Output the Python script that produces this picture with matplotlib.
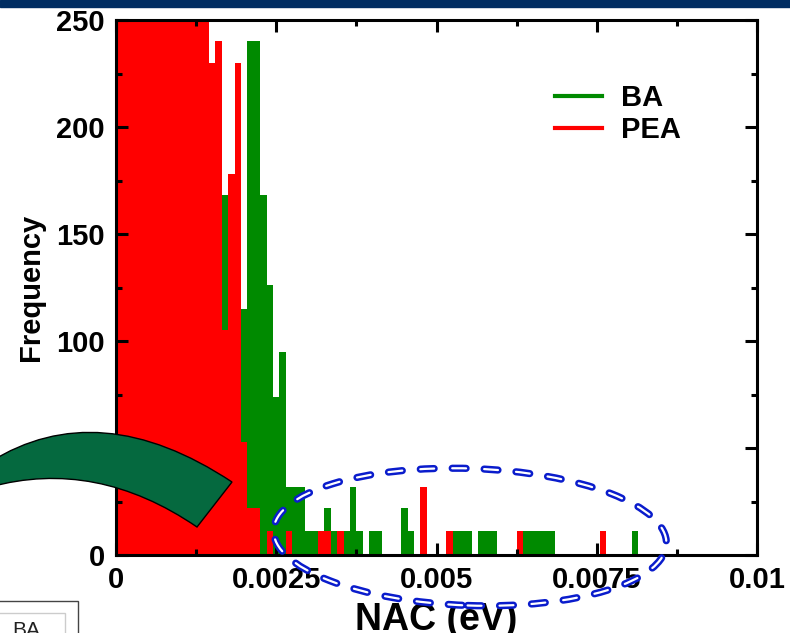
import numpy as np
import matplotlib
matplotlib.use('Agg')
import matplotlib.pyplot as plt
from matplotlib.patches import Rectangle, Ellipse, PathPatch
from matplotlib.path import Path
from matplotlib.lines import Line2D
from matplotlib.transforms import IdentityTransform
from matplotlib.ticker import MultipleLocator

plt.rcParams['font.family'] = ['Liberation Sans', 'DejaVu Sans']
plt.rcParams['font.weight'] = 'bold'
plt.rcParams['lines.scale_dashes'] = False

# histogram data, bins of 0.0001 eV centred on k*0.0001
bin_width = 0.0001
ba_counts = [0, 0, 0, 2, 8, 20, 40, 70, 100, 140, 170, 200, 215, 220, 225,
             220, 230, 168, 150, 200, 115, 240, 240, 168, 126, 74, 95, 32, 32, 32,
             11, 11, 11, 22, 11, 11, 11, 32, 11, 0, 11, 11, 0, 0, 0,
             22, 11, 0, 0, 0, 0, 0, 0, 11, 11, 11, 0, 11, 11, 11,
             0, 0, 0, 0, 11, 11, 11, 11, 11, 0, 0, 0, 0, 0, 0,
             0, 0, 0, 0, 0, 0, 11, 0, 0, 0, 0]
pea_counts = [300, 900, 1400, 1500, 1350, 1150, 950, 780, 640, 520, 430, 370, 320, 285, 265,
              230, 240, 105, 178, 230, 53, 22, 22, 0, 11, 0, 0, 11, 0, 0,
              0, 0, 11, 11, 0, 11, 0, 0, 0, 0, 0, 0, 0, 0, 0,
              0, 0, 0, 32, 0, 0, 0, 11, 0, 0, 0, 0, 0, 0, 0,
              0, 0, 0, 11, 0, 0, 0, 0, 0, 0, 0, 0, 0, 0, 0,
              0, 11, 0, 0, 0, 0, 0, 0, 0, 0, 0]
nac = np.arange(len(ba_counts)) * bin_width

x_ticks = [0, 0.0025, 0.005, 0.0075, 0.01]
x_tick_labels = ['0', '0.0025', '0.005', '0.0075', '0.01']
y_ticks = [0, 50, 100, 150, 200, 250]

green = '#008a00'
red = '#ff0000'

W, H = 790, 633
fig = plt.figure(figsize=(W / 100, H / 100), dpi=100)
ax = fig.add_axes([116 / W, 1 - 555 / H, (757 - 116) / W, (555 - 20) / H])

ax.bar(nac, ba_counts, width=bin_width, color=green, linewidth=0)
ax.bar(nac, pea_counts, width=bin_width, color=red, linewidth=0)

ax.set_xlim(0, 0.01)
ax.set_ylim(0, 250)
ax.set_xticks(x_ticks, x_tick_labels)
ax.set_yticks(y_ticks)
ax.xaxis.set_minor_locator(MultipleLocator(0.00125))
ax.yaxis.set_minor_locator(MultipleLocator(25))
ax.tick_params(which='both', direction='in', top=True, right=True, width=2.2,
               labelsize=21, pad=8)
ax.tick_params(which='major', length=8.5)
ax.tick_params(which='minor', length=4.5)
for s in ax.spines.values():
    s.set_linewidth(2.2)
    s.set_zorder(3)

ax.set_xlabel('NAC (eV)', fontsize=27, fontweight='bold', labelpad=6)
ax.set_ylabel('Frequency', fontsize=21, fontweight='bold', labelpad=8)

handles = [Line2D([], [], color=green, lw=3), Line2D([], [], color=red, lw=3)]
fig.legend(handles, ['BA', 'PEA'], loc='upper left', bbox_to_anchor=(555 / W, 1 - 84 / H),
           frameon=False, fontsize=21, borderpad=0, borderaxespad=0, handlelength=1.6,
           handletextpad=0.65, labelspacing=0.15)

ident = IdentityTransform()

# navy band of the slide
fig.add_artist(Rectangle((0, H - 7), W, 7, transform=ident, color='#002d62', zorder=6))


def px(x, y):
    return (x, H - y)


# curved green arrow body
verts = [px(232, 482), px(99, 394), px(-10, 462), px(-10, 487),
         px(96, 458), px(197, 527), px(232, 482)]
codes = [Path.MOVETO, Path.CURVE3, Path.CURVE3, Path.LINETO,
         Path.CURVE3, Path.CURVE3, Path.CLOSEPOLY]
fig.add_artist(PathPatch(Path(verts, codes), transform=ident, facecolor='#05693f',
                         edgecolor='black', lw=1, zorder=6))

# dashed blue ellipse
for lw, col in [(5.2, '#0a1ccc'), (1.6, 'white')]:
    e = Ellipse(px(470, 537), 393, 137, angle=-2, transform=ident, fill=False,
                edgecolor=col, lw=lw, linestyle=(0, (10, 13)), zorder=7)
    e.set_capstyle('round')
    fig.add_artist(e)

# small cut-off box bottom left
fig.add_artist(Rectangle(px(-2, 640), 80, 39, transform=ident, facecolor='white',
                         edgecolor='#444444', lw=1, zorder=6))
fig.add_artist(Rectangle(px(-6, 640), 71, 27, transform=ident, facecolor='white',
                         edgecolor='#cccccc', lw=1, zorder=6))
fig.text(12, H - 621, 'BA', transform=ident, fontsize=15, fontweight='normal',
         color='#222222', va='top', ha='left', zorder=7)

fig.savefig('out.png', dpi=100)
